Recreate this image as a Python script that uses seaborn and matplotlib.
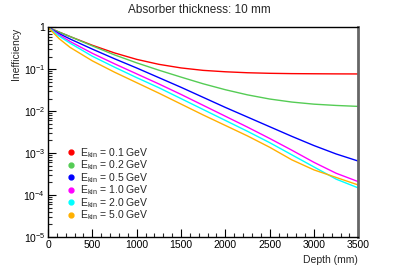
import numpy as np
import pandas as pd
import matplotlib
matplotlib.use("Agg")
import matplotlib.pyplot as plt
from matplotlib.lines import Line2D
from matplotlib.ticker import FixedLocator, FuncFormatter, LogLocator, MultipleLocator
import seaborn as sns

# ---- data ----
depth = [0, 125, 250, 500, 750, 1000, 1250, 1500, 1750, 2000, 2250, 2500, 2750, 3000, 3250, 3500]
energies = ["0.1", "0.2", "0.5", "1.0", "2.0", "5.0"]
ineff_01 = [1.0, 0.77, 0.60, 0.373, 0.245, 0.172, 0.131, 0.1075, 0.094, 0.087, 0.0825, 0.080, 0.0786, 0.0780, 0.0775, 0.0772]
ineff_02 = [1.0, 0.77, 0.60, 0.36, 0.22, 0.142, 0.095, 0.065, 0.045, 0.0325, 0.0245, 0.0195, 0.0165, 0.0147, 0.0137, 0.0130]
log_ineff_05 = [0, -0.15, -0.28, -0.52, -0.75, -0.97, -1.20, -1.43, -1.67, -1.91, -2.14, -2.37, -2.60, -2.82, -3.02, -3.19]
log_ineff_10 = [0, -0.18, -0.34, -0.62, -0.87, -1.11, -1.35, -1.60, -1.86, -2.12, -2.38, -2.65, -2.93, -3.22, -3.48, -3.68]
log_ineff_20 = [0, -0.21, -0.38, -0.69, -0.95, -1.20, -1.44, -1.70, -1.96, -2.22, -2.48, -2.75, -3.04, -3.33, -3.62, -3.83]
log_ineff_50 = [0, -0.27, -0.48, -0.80, -1.07, -1.32, -1.57, -1.83, -2.09, -2.34, -2.59, -2.86, -3.16, -3.40, -3.58, -3.76]
colors = ["#ff0000", "#55cc55", "#0000ff", "#ff00ff", "#00ffff", "#ffb000"]
x_ticks = [0, 500, 1000, 1500, 2000, 2500, 3000, 3500]
y_ticks = [1e-5, 1e-4, 1e-3, 1e-2, 1e-1, 1]
y_tick_labels = [r"$10^{-5}$", r"$10^{-4}$", r"$10^{-3}$", r"$10^{-2}$", r"$10^{-1}$", "1"]

series = [ineff_01, ineff_02,
          list(10 ** np.array(log_ineff_05)), list(10 ** np.array(log_ineff_10)),
          list(10 ** np.array(log_ineff_20)), list(10 ** np.array(log_ineff_50))]

rows = []
for e, vals in zip(energies, series):
    for d, v in zip(depth, vals):
        rows.append({"depth": d, "ineff": v, "E": e})
df = pd.DataFrame(rows)

sns.set_theme(style="white")
plt.rcParams["font.family"] = ["Liberation Sans", "DejaVu Sans"]
plt.rcParams["mathtext.fontset"] = "custom"
plt.rcParams["mathtext.rm"] = "Liberation Sans"
plt.rcParams["mathtext.it"] = "Liberation Sans:italic"
plt.rcParams["mathtext.default"] = "regular"

fig = plt.figure(figsize=(3.99, 2.70), dpi=100)
ax = fig.add_axes([48 / 399, 1 - 237 / 270, 310.3 / 399, 209.7 / 270])

sns.lineplot(data=df, x="depth", y="ineff", hue="E", palette=colors, ax=ax,
             linewidth=1.0, legend=False, estimator=None, sort=False)

ax.set_yscale("log")
ax.set_xlim(0, 3500)
ax.set_ylim(1e-5, 1)

ax.xaxis.set_major_locator(FixedLocator(x_ticks))
ax.xaxis.set_minor_locator(MultipleLocator(100))
ax.set_xticklabels([str(t) for t in x_ticks])
ax.yaxis.set_major_locator(FixedLocator(y_ticks))
ax.yaxis.set_minor_locator(LogLocator(base=10, subs=np.arange(2, 10), numticks=20))
ax.yaxis.set_minor_formatter(FuncFormatter(lambda v, p: ""))
ax.set_yticklabels(y_tick_labels)

ax.tick_params(axis="both", which="major", direction="in", length=6, width=0.8,
               labelsize=7.5, colors="black", pad=2)
ax.tick_params(axis="both", which="minor", direction="in", length=3, width=0.8)
ax.tick_params(bottom=True, left=True, top=False, right=False, which="both")

for s in ["left", "bottom", "top"]:
    ax.spines[s].set_color("black")
    ax.spines[s].set_linewidth(1.0)
ax.spines["right"].set_color("#666666")
ax.spines["right"].set_linewidth(2.0)

ax.set_xlabel("Depth (mm)", fontsize=7.5, loc="right", labelpad=4)
ax.set_ylabel("Inefficiency", fontsize=7.5, loc="top", labelpad=2)

fig.suptitle("Absorber thickness: 10 mm", fontsize=8.5, x=0.5, y=0.985)

handles = [Line2D([], [], marker="o", linestyle="", color=c, markersize=3.5) for c in colors]
labels = [r"E$_{\mathrm{kin}}$ = " + e + " GeV" for e in energies]
ax.legend(handles, labels, loc="upper left", bbox_to_anchor=(0.03, 0.47), frameon=False,
          fontsize=7.5, handletextpad=0.3, labelspacing=-0.12, borderpad=0.2, handlelength=1.2)

fig.savefig("out.png", dpi=100)
